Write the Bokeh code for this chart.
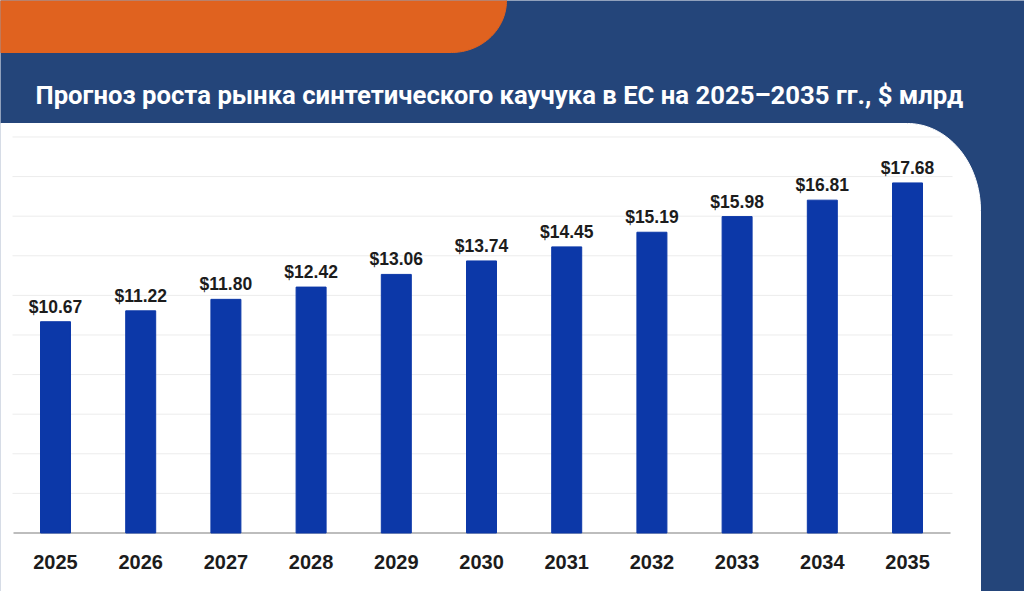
import numpy as np
from bokeh.plotting import figure
from bokeh.models import Range1d, ColumnDataSource
from bokeh.core.properties import value
from bokeh.embed import file_html
from bokeh.resources import INLINE

# ---- data ----
years = ["2025", "2026", "2027", "2028", "2029", "2030", "2031", "2032", "2033", "2034", "2035"]
market = [10.67, 11.22, 11.80, 12.42, 13.06, 13.74, 14.45, 15.19, 15.98, 16.81, 17.68]
grid_ticks = [2, 4, 6, 8, 10, 12, 14, 16, 18, 20]
title_text = "Прогноз роста рынка синтетического каучука в ЕС на 2025–2035 гг., $ млрд"

# ---- styles ----
NAVY = "#24457A"
ORANGE = "#E0621F"
BAR = "#0C38A8"
INK = "#1C1C1C"

W, H = 1024, 591

xs = list(range(len(years)))
src = ColumnDataSource(dict(
    x=xs,
    top=market,
    year=years,
    label=["$%.2f" % v for v in market],
))

p = figure(width=W, height=H,
           x_range=Range1d(-0.6455, 11.373), y_range=Range1d(-2.955, 26.894),
           x_axis_location=None, y_axis_location=None,
           min_border=0, toolbar_location=None, output_backend="svg",
           background_fill_color=NAVY, border_fill_color=NAVY)
p.grid.visible = False
p.outline_line_color = None
# page-pixel helper ranges for decoration
p.extra_x_ranges = {"px": Range1d(0, W)}
p.extra_y_ranges = {"px": Range1d(H, 0)}

# orange tab top-left
t = np.linspace(0, np.pi / 2, 40)
ox = [0, 0] + list(451 + 55 * np.cos(t)) + [0]
oy = [52, -5] + list(52 * np.sin(t)) + [52]
oy[2] = -5
p.patch(ox, oy, color=ORANGE, x_range_name="px", y_range_name="px")

# white panel with rounded top-right corner
wx = [0] + list(907 + 73 * np.sin(t)) + [980, 0]
wy = [123] + list(210 - 87 * np.cos(t)) + [600, 600]
p.patch(wx, wy, color="white", x_range_name="px", y_range_name="px")

# grid lines (top one stops at the panel's rounded corner)
x_ends = [952] * (len(grid_ticks) - 1) + [940]
p.segment(x0=[12] * len(grid_ticks), x1=x_ends, y0=grid_ticks, y1=grid_ticks,
          line_color="#ECECEC", line_width=1, x_range_name="px")
# baseline
p.segment(x0=[13], x1=[950], y0=[0], y1=[0], line_color="#BDBDBD", line_width=2, x_range_name="px")

# bars
p.vbar(x="x", top="top", bottom=0, width=0.352, source=src, color=BAR)

# value labels
p.text(x="x", y="top", text="label", source=src, y_offset=-15,
       text_align="center", text_baseline="alphabetic",
       text_font=value("Liberation Sans"), text_font_style="bold",
       text_font_size="17.5px", text_color=INK)

# year labels
p.text(x="x", y=561, text="year", source=src, y_range_name="px",
       text_align="center", text_baseline="middle",
       text_font=value("Liberation Sans"), text_font_style="bold",
       text_font_size="20px", text_color=INK)

# title
p.text(x=[35], y=[94], text=[title_text], x_range_name="px", y_range_name="px",
       text_align="left", text_baseline="alphabetic",
       text_font=value("Roboto"), text_font_style="bold",
       text_font_size="25.7px", text_color="white")

open("out.html", "w").write(file_html(p, INLINE))
